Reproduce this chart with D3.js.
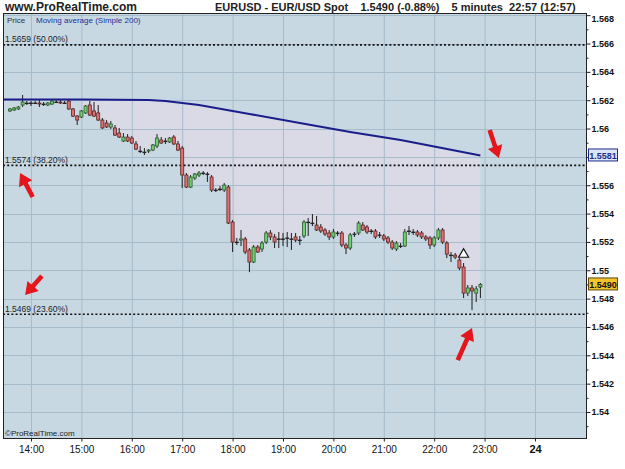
<!DOCTYPE html>
<html>
<head>
<meta charset="utf-8">
<script src="https://cdn.jsdelivr.net/npm/d3@7"></script>
<style>
  body { margin: 0; background: #fff; }
  text { font-family: "Liberation Sans", Arial, sans-serif; }
  .narrow { font-family: "Liberation Sans Narrow", "Arial Narrow", "Liberation Sans", Arial, sans-serif; }
</style>
</head>
<body>
<svg id="chart" width="625" height="469"></svg>
<script>
// 5 minute candles, first one at 13:35 : [open, high, low, close]
const candleStart = '13:35';
const candles = [
  [1.56124,1.56145,1.56117,1.56138],[1.56131,1.56152,1.56124,1.56145],[1.56138,1.56159,1.56131,1.56152],
  [1.56166,1.56237,1.56152,1.56187],[1.56180,1.56194,1.56166,1.56180],[1.56180,1.56194,1.56159,1.56180],
  [1.56180,1.56194,1.56173,1.56180],[1.56180,1.56201,1.56152,1.56173],[1.56173,1.56187,1.56159,1.56173],
  [1.56166,1.56187,1.56159,1.56180],[1.56173,1.56208,1.56166,1.56194],[1.56187,1.56201,1.56180,1.56187],
  [1.56187,1.56201,1.56173,1.56180],[1.56180,1.56194,1.56173,1.56180],[1.56194,1.56201,1.56131,1.56138],
  [1.56138,1.56145,1.56081,1.56088],[1.56088,1.56095,1.56025,1.56060],[1.56081,1.56131,1.56074,1.56124],
  [1.56110,1.56166,1.56103,1.56159],[1.56166,1.56194,1.56088,1.56095],[1.56124,1.56187,1.56081,1.56088],
  [1.56110,1.56166,1.56053,1.56060],[1.56060,1.56074,1.55997,1.56004],[1.56039,1.56060,1.56004,1.56011],
  [1.56011,1.56053,1.55997,1.56032],[1.56004,1.56025,1.55947,1.55954],[1.55968,1.56004,1.55933,1.55940],
  [1.55912,1.55968,1.55905,1.55940],[1.55940,1.55961,1.55905,1.55912],[1.55933,1.55947,1.55891,1.55898],
  [1.55891,1.55912,1.55848,1.55855],[1.55841,1.55877,1.55827,1.55841],[1.55834,1.55862,1.55813,1.55834],
  [1.55841,1.55855,1.55827,1.55848],[1.55848,1.55891,1.55841,1.55884],[1.55877,1.55961,1.55862,1.55933],
  [1.55919,1.55940,1.55891,1.55898],[1.55912,1.55933,1.55891,1.55912],[1.55905,1.55940,1.55898,1.55933],
  [1.55940,1.55954,1.55884,1.55891],[1.55891,1.55912,1.55841,1.55848],[1.55862,1.55877,1.55580,1.55672],
  [1.55672,1.55686,1.55580,1.55587],[1.55587,1.55672,1.55580,1.55658],[1.55651,1.55686,1.55637,1.55679],
  [1.55672,1.55700,1.55658,1.55686],[1.55686,1.55700,1.55672,1.55686],[1.55679,1.55693,1.55623,1.55679],
  [1.55658,1.55672,1.55552,1.55566],[1.55566,1.55580,1.55552,1.55566],[1.55573,1.55594,1.55559,1.55573],
  [1.55566,1.55616,1.55552,1.55601],[1.55587,1.55601,1.55326,1.55333],[1.55340,1.55354,1.55129,1.55199],
  [1.55199,1.55228,1.55178,1.55199],[1.55213,1.55284,1.55171,1.55221],[1.55221,1.55235,1.55114,1.55129],
  [1.55143,1.55157,1.54987,1.55058],[1.55058,1.55178,1.55051,1.55164],[1.55164,1.55178,1.55122,1.55129],
  [1.55150,1.55206,1.55129,1.55192],[1.55199,1.55277,1.55185,1.55263],[1.55263,1.55284,1.55213,1.55235],
  [1.55235,1.55256,1.55157,1.55199],[1.55221,1.55270,1.55157,1.55221],[1.55221,1.55263,1.55171,1.55221],
  [1.55228,1.55270,1.55164,1.55228],[1.55221,1.55263,1.55143,1.55221],[1.55235,1.55263,1.55199,1.55213],
  [1.55213,1.55242,1.55178,1.55213],[1.55242,1.55354,1.55228,1.55340],[1.55340,1.55369,1.55242,1.55340],
  [1.55333,1.55397,1.55312,1.55333],[1.55319,1.55383,1.55277,1.55284],[1.55305,1.55326,1.55263,1.55277],
  [1.55284,1.55298,1.55242,1.55256],[1.55263,1.55284,1.55213,1.55235],[1.55235,1.55291,1.55221,1.55270],
  [1.55263,1.55277,1.55242,1.55263],[1.55263,1.55277,1.55164,1.55178],[1.55178,1.55192,1.55114,1.55157],
  [1.55157,1.55263,1.55143,1.55249],[1.55256,1.55270,1.55235,1.55256],[1.55263,1.55347,1.55249,1.55333],
  [1.55319,1.55340,1.55277,1.55284],[1.55305,1.55319,1.55256,1.55270],[1.55277,1.55291,1.55256,1.55277],
  [1.55277,1.55291,1.55221,1.55235],[1.55249,1.55270,1.55228,1.55249],[1.55242,1.55256,1.55206,1.55221],
  [1.55228,1.55242,1.55185,1.55199],[1.55199,1.55213,1.55143,1.55157],[1.55150,1.55206,1.55136,1.55192],
  [1.55171,1.55192,1.55157,1.55171],[1.55171,1.55291,1.55164,1.55270],[1.55277,1.55312,1.55249,1.55277],
  [1.55270,1.55291,1.55249,1.55270],[1.55270,1.55284,1.55235,1.55249],[1.55263,1.55277,1.55221,1.55235],
  [1.55235,1.55249,1.55206,1.55221],[1.55228,1.55242,1.55150,1.55178],[1.55178,1.55242,1.55164,1.55228],
  [1.55228,1.55298,1.55213,1.55284],[1.55284,1.55298,1.55185,1.55199],[1.55192,1.55206,1.55086,1.55114],
  [1.55107,1.55129,1.55058,1.55107],[1.55107,1.55122,1.55079,1.55093],[1.55072,1.55086,1.55001,1.55016],
  [1.55023,1.55051,1.54804,1.54839],[1.54839,1.54896,1.54818,1.54875],[1.54875,1.54896,1.54719,1.54854],
  [1.54839,1.54889,1.54776,1.54868],[1.54882,1.54910,1.54804,1.54900]
];

// Moving average (Simple 200), read at a few times
const maTimes  = ['13:27','15:00','16:20','16:40','17:20','18:20','19:20','20:20','21:20','22:00','22:55'];
const maValues = [1.56205,1.56205,1.56201,1.56194,1.56166,1.56103,1.56039,1.55975,1.55919,1.55873,1.5581];

const fibValues = [1.5659, 1.5574, 1.5469];
const fibLabels = ['1.5659 (50.00%)', '1.5574 (38.20%)', '1.5469 (23.60%)'];

const priceTicks = [1.540,1.542,1.544,1.546,1.548,1.550,1.552,1.554,1.556,1.558,1.560,1.562,1.564,1.566,1.568];
const minorTicks = [1.539,1.541,1.543,1.545,1.547,1.549,1.551,1.553,1.555,1.557,1.559,1.561,1.563,1.565,1.567];
const hourTicks = ['14:00','15:00','16:00','17:00','18:00','19:00','20:00','21:00','22:00','23:00','24:00'];

const lastPrice = 1.5490;
const lastMa = 1.5581;
const signalTime = '22:35', signalPrice = 1.5512;

// red arrows: [tail time, tail price, tip time, tip price]
const arrows = [
  ['23:06', 1.55990, '23:17', 1.55792],
  ['14:02', 1.55517, '13:47', 1.55686],
  ['14:13', 1.54959, '13:53', 1.54825],
  ['22:28', 1.54366, '22:45', 1.54592]
];

const day = new Date(2009, 10, 23);
function at(hm) {
  const [h, m] = hm.split(':').map(Number);
  return new Date(day.getTime() + (h * 60 + m) * 60000);
}

const svg = d3.select('#chart');
const plot = { left: 3, right: 586, top: 13, bottom: 438 };
const bg = '#c7d8e2';

const x = d3.scaleTime().domain([at('14:00'), at('24:00')]).range([31, 535]);
const y = d3.scaleLinear().domain([1.540, 1.566]).range([412, 43.5]);

const t0 = at(candleStart).getTime();
const bars = candles.map((c, i) => ({ t: new Date(t0 + i * 300000), o: c[0], h: c[1], l: c[2], c: c[3] }));
const ma = maTimes.map((t, i) => ({ t: at(t), v: maValues[i] }));

svg.append('rect').attr('width', 625).attr('height', 469).attr('fill', '#fff');

svg.append('clipPath').attr('id', 'clip').append('rect')
  .attr('x', plot.left).attr('y', plot.top)
  .attr('width', plot.right - plot.left).attr('height', plot.bottom - plot.top);

const g = svg.append('g').attr('clip-path', 'url(#clip)');

g.append('rect')
  .attr('x', plot.left).attr('y', plot.top)
  .attr('width', plot.right - plot.left).attr('height', plot.bottom - plot.top)
  .attr('fill', bg);

// shaded zone between price and the average
g.append('path').datum(ma.filter(d => d.t >= bars[0].t))
  .attr('fill', '#d9dae6')
  .attr('d', d3.area().x(d => x(d.t)).y0(plot.bottom).y1(d => y(d.v)));
g.append('path').datum(bars)
  .attr('fill', bg)
  .attr('d', d3.area().x(d => x(d.t)).y0(plot.bottom).y1(d => y(Math.max(d.o, d.c))));

// grid
g.selectAll('.vgrid').data(hourTicks).enter().append('line')
  .attr('x1', d => x(at(d)) + 0.5).attr('x2', d => x(at(d)) + 0.5)
  .attr('y1', plot.top).attr('y2', plot.bottom)
  .attr('stroke', '#a6bccb').attr('stroke-width', 1);
g.selectAll('.hgrid').data(priceTicks).enter().append('line')
  .attr('x1', plot.left).attr('x2', plot.right)
  .attr('y1', d => Math.round(y(d)) + 0.5).attr('y2', d => Math.round(y(d)) + 0.5)
  .attr('stroke', '#a6bccb').attr('stroke-width', 1);

// fibonacci levels
g.selectAll('.fib').data(fibValues).enter().append('line')
  .attr('x1', plot.left).attr('x2', plot.right)
  .attr('y1', d => y(d)).attr('y2', d => y(d))
  .attr('stroke', '#111').attr('stroke-width', 1.6).attr('stroke-dasharray', '2,2.2');
g.selectAll('.fibLabel').data(fibValues).enter().append('text')
  .attr('x', 5).attr('y', d => y(d) - 2.5)
  .attr('font-size', 8.5).attr('fill', '#222')
  .text((d, i) => fibLabels[i]);

// candles
const cw = 3;
const candle = g.selectAll('.candle').data(bars).enter().append('g');
candle.append('line')
  .attr('x1', d => x(d.t)).attr('x2', d => x(d.t))
  .attr('y1', d => y(d.h)).attr('y2', d => y(d.l))
  .attr('stroke', '#1d1d1d').attr('stroke-width', 1);
candle.append('rect')
  .attr('x', d => x(d.t) - cw / 2)
  .attr('y', d => y(Math.max(d.o, d.c)))
  .attr('width', cw)
  .attr('height', d => Math.max(0.6, Math.abs(y(d.o) - y(d.c))))
  .attr('fill', d => d.c > d.o ? '#6fd26f' : (d.c < d.o ? '#df7272' : '#333'))
  .attr('stroke', d => d.c > d.o ? '#2f5a2f' : (d.c < d.o ? '#5e2424' : '#222'))
  .attr('stroke-width', 0.8);

// moving average
g.append('path').datum(ma)
  .attr('fill', 'none').attr('stroke', '#1b1d8a').attr('stroke-width', 2)
  .attr('d', d3.line().x(d => x(d.t)).y(d => y(d.v)));

// signal triangle
const sx = x(at(signalTime)), sy = y(signalPrice);
g.append('path')
  .attr('d', `M${sx},${sy - 4.5}L${sx + 5},${sy + 4}L${sx - 5},${sy + 4}Z`)
  .attr('fill', '#fff').attr('stroke', '#111').attr('stroke-width', 1.2);

// arrows
function arrowPath(x1, y1, x2, y2) {
  const dx = x2 - x1, dy = y2 - y1, len = Math.hypot(dx, dy);
  const ux = dx / len, uy = dy / len, nx = -uy, ny = ux;
  const sw = 2.3, hw = 7.5, hl = 12;
  const bx = x2 - ux * hl, by = y2 - uy * hl;
  const p = [
    [x1 + nx * sw, y1 + ny * sw], [bx + nx * sw, by + ny * sw], [bx + nx * hw, by + ny * hw],
    [x2, y2], [bx - nx * hw, by - ny * hw], [bx - nx * sw, by - ny * sw], [x1 - nx * sw, y1 - ny * sw]
  ];
  return 'M' + p.map(q => q.join(',')).join('L') + 'Z';
}
svg.selectAll('.arrow').data(arrows).enter().append('path')
  .attr('d', d => arrowPath(x(at(d[0])), y(d[1]), x(at(d[2])), y(d[3])))
  .attr('fill', '#e3161b');

// frame
svg.append('rect')
  .attr('x', plot.left + 0.5).attr('y', plot.top + 0.5)
  .attr('width', plot.right - plot.left).attr('height', plot.bottom - plot.top)
  .attr('fill', 'none').attr('stroke', '#222').attr('stroke-width', 1);

// right axis (1.558 sits under the average's tag)
const fmt = d => Math.abs(d - lastMa) < 0.001 ? '' : (+d.toFixed(3)).toString();
const yAxis = svg.append('g').attr('transform', `translate(${plot.right + 0.5},0)`)
  .call(d3.axisRight(y).tickValues(priceTicks).tickSize(4).tickSizeOuter(0).tickPadding(1).tickFormat(fmt));
yAxis.select('.domain').remove();
yAxis.selectAll('text').attr('font-size', 9).attr('font-weight', 'bold').attr('fill', '#111')
  .attr('dy', d => d === 1.568 ? '0.75em' : '0.32em');
yAxis.selectAll('line').attr('stroke', '#222');
const yMinor = svg.append('g').attr('transform', `translate(${plot.right + 0.5},0)`)
  .call(d3.axisRight(y).tickValues(minorTicks.filter(v => y(v) > plot.top && y(v) < plot.bottom)).tickSize(2).tickFormat(''));
yMinor.select('.domain').remove();
yMinor.selectAll('line').attr('stroke', '#222');

// price tags
function tag(value, fill, stroke, color) {
  const ty = y(value);
  svg.append('rect').attr('x', 588.5).attr('y', ty - 6.5).attr('width', 29).attr('height', 12)
    .attr('fill', fill).attr('stroke', stroke).attr('stroke-width', 1);
  svg.append('text').attr('x', 603).attr('y', ty + 3.2).attr('text-anchor', 'middle')
    .attr('font-size', 9).attr('font-weight', 'bold').attr('fill', color)
    .text(value.toFixed(4));
}
tag(lastMa, '#dde6f6', '#1b2a8a', '#1b2a8a');
tag(lastPrice, '#f3c22c', '#5a4a10', '#111');

// bottom axis
const xAxis = svg.append('g').attr('transform', `translate(0,${plot.bottom + 0.5})`)
  .call(d3.axisBottom(x).tickValues(hourTicks.map(at)).tickSize(3).tickSizeOuter(0).tickPadding(4)
    .tickFormat(d => d.getHours() === 0 ? '24' : d3.timeFormat('%H:%M')(d)));
xAxis.select('.domain').remove();
xAxis.selectAll('line').attr('stroke', '#222');
xAxis.selectAll('text').attr('fill', '#111')
  .attr('font-weight', d => d.getHours() === 0 ? 'bold' : 'normal')
  .attr('font-size', d => d.getHours() === 0 ? 11 : 10);

// texts
svg.append('text').attr('class', 'narrow').attr('x', 5).attr('y', 10.5)
  .attr('font-size', 12).attr('font-weight', 'bold').attr('fill', '#222')
  .text('www.ProRealTime.com');
svg.append('text').attr('class', 'narrow').attr('x', 215).attr('y', 10.5)
  .attr('font-size', 11).attr('font-weight', 'bold').attr('fill', '#222')
  .attr('xml:space', 'preserve')
  .text('EURUSD - EUR/USD Spot    1.5490 (-0.88%)    5 minutes  22:57 (12:57)');
svg.append('text').attr('x', 7).attr('y', 22.5).attr('font-size', 8).attr('fill', '#333').text('Price');
svg.append('text').attr('x', 36).attr('y', 22.5).attr('font-size', 8).attr('fill', '#23309a')
  .text('Moving average (Simple 200)');
svg.append('text').attr('x', 5).attr('y', 436).attr('font-size', 8).attr('fill', '#222')
  .text('\u00a9ProRealTime.com');
</script>
</body>
</html>
